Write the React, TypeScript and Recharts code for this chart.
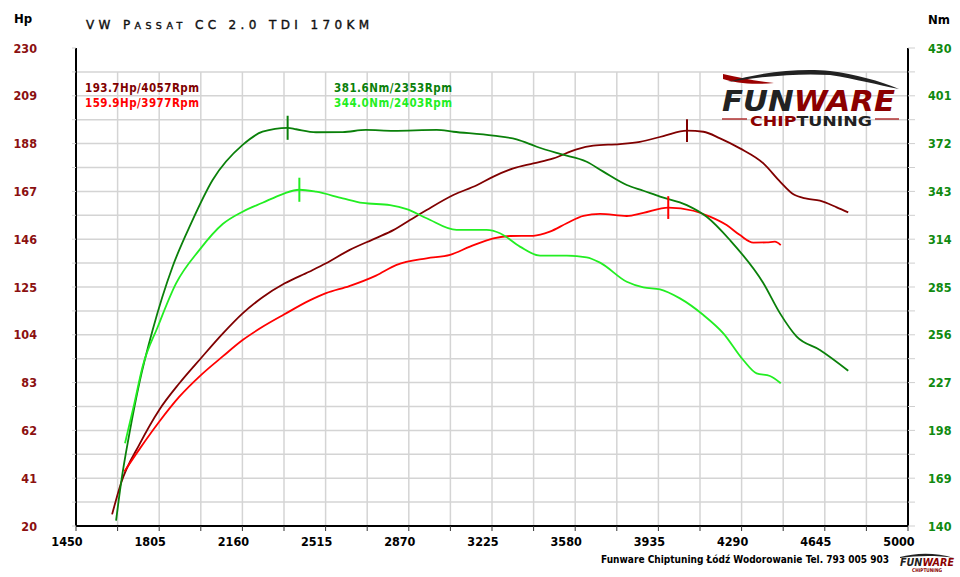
import { LineChart, Line, XAxis, YAxis, ReferenceLine } from "recharts";

// axis labels
const xLabels = [1450, 1805, 2160, 2515, 2870, 3225, 3580, 3935, 4290, 4645, 5000];
const hpLabels = [20, 41, 62, 83, 104, 125, 146, 167, 188, 209, 230];
const nmLabels = [140, 169, 198, 227, 256, 285, 314, 343, 372, 401, 430];

// tuned power (Hp)
const tunedPowerRpm = [1604, 1642, 1723, 1805, 1891, 1983, 2076, 2161, 2246, 2339, 2445, 2517, 2616, 2730, 2804, 2875, 2946, 3060, 3160, 3231, 3316, 3401, 3487, 3586, 3657, 3771, 3856, 3956, 4057, 4127, 4198, 4283, 4383, 4454, 4511, 4568, 4624, 4696, 4745];
const tunedPowerHp = [25.1, 38.8, 56.3, 71.0, 82.7, 93.7, 104.5, 113.4, 120.5, 126.5, 131.7, 135.4, 141.2, 146.5, 150.0, 154.4, 158.8, 165.4, 169.7, 173.5, 177.1, 179.3, 181.5, 185.5, 187.1, 187.8, 188.8, 191.3, 193.7, 193.2, 190.3, 185.9, 179.3, 171.3, 165.7, 163.8, 162.9, 160.0, 157.8];

// stock power (Hp)
const stockPowerRpm = [1656, 1723, 1805, 1891, 1983, 2076, 2161, 2246, 2339, 2445, 2517, 2616, 2730, 2818, 2946, 3046, 3131, 3231, 3302, 3401, 3472, 3544, 3615, 3686, 3800, 3871, 3977, 4084, 4155, 4226, 4283, 4340, 4397, 4432, 4457];
const stockPowerHp = [43.9, 54.1, 65.8, 76.8, 86.3, 94.5, 101.7, 107.5, 113.0, 119.0, 122.3, 125.4, 130.0, 134.7, 137.6, 139.1, 142.7, 146.4, 147.4, 147.5, 149.3, 153.0, 156.3, 157.1, 156.2, 157.6, 159.9, 158.5, 155.9, 152.2, 147.8, 144.5, 144.6, 144.9, 143.4];

// tuned torque (Nm)
const tunedTorqueRpm = [1621, 1642, 1678, 1720, 1777, 1862, 1941, 2033, 2161, 2246, 2353, 2389, 2474, 2588, 2687, 2804, 2989, 3060, 3231, 3330, 3416, 3515, 3629, 3700, 3800, 3871, 3942, 4056, 4141, 4240, 4383, 4454, 4525, 4624, 4745];
const tunedTorqueNm = [143.2, 165.9, 196.2, 226.6, 258.9, 297.3, 323.6, 349.9, 371.2, 379.2, 381.6, 380.7, 378.9, 379.0, 380.3, 379.7, 380.3, 379.2, 376.8, 374.6, 370.1, 365.7, 361.0, 355.0, 346.9, 343.4, 339.8, 334.7, 327.6, 313.5, 287.3, 269.0, 254.9, 246.8, 234.2];

// stock torque (Nm)
const stockTorqueRpm = [1659, 1699, 1734, 1799, 1877, 1976, 2076, 2161, 2246, 2332, 2403, 2474, 2588, 2673, 2790, 2861, 2946, 3074, 3202, 3259, 3344, 3430, 3544, 3629, 3686, 3800, 3871, 3942, 4027, 4127, 4212, 4297, 4354, 4411, 4457];
const stockTorqueNm = [190.2, 214.4, 236.6, 260.9, 287.2, 307.4, 323.2, 330.7, 336.1, 341.4, 344.0, 342.8, 338.8, 336.0, 334.7, 332.3, 326.7, 319.6, 319.6, 317.6, 309.5, 304.0, 304.0, 303.0, 299.8, 288.2, 284.8, 283.6, 278.1, 268.0, 256.9, 240.7, 232.6, 231.0, 226.6];

// peaks: tuned Hp, stock Hp, tuned Nm, stock Nm
const peakRpm = [4057, 3977, 2353, 2403];
const peakValue = [193.7, 159.9, 381.6, 344.0];

const colors = ["#800000", "#ff0000", "#0a800a", "#22ee22"];

const toRows = (rpm: number[], vals: number[]) => rpm.map((r, i) => ({ rpm: r, v: vals[i] }));

const halfSteps = (labels: number[]) =>
  labels.flatMap((v, i) => (i === 0 ? [v] : [(labels[i - 1] + v) / 2, v]));

const xTicks = halfSteps(xLabels);
const hpTicks = halfSteps(hpLabels);
const nmTicks = halfSteps(nmLabels);
const hGrid = hpTicks.slice(1, -1);
const vGrid = xTicks.slice(1, -1);
const gridTop = hpTicks[hpTicks.length - 2];

const labelFont = {
  fontFamily: "'DejaVu Sans Condensed', 'DejaVu Sans', sans-serif",
  fontWeight: 700,
  fontSize: 12.5,
};

const XTick = (props: any) => {
  const { x, y, payload, index } = props;
  if (index % 2 !== 0) return <g />;
  return (
    <text x={x - 9} y={y} dy={13} textAnchor="middle" fill="#000" style={labelFont}>
      {payload.value}
    </text>
  );
};

const HpTick = (props: any) => {
  const { x, y, payload, index } = props;
  if (index % 2 !== 0) return <g />;
  return (
    <text x={x} y={y} dy={4.5} textAnchor="end" fill="#8b1010" style={labelFont}>
      {payload.value}
    </text>
  );
};

const NmTick = (props: any) => {
  const { x, y, payload, index } = props;
  if (index % 2 !== 0) return <g />;
  return (
    <text x={x} y={y} dy={4.5} textAnchor="start" fill="#108a10" style={labelFont}>
      {payload.value}
    </text>
  );
};

const smallFont = "'DejaVu Sans Condensed', 'DejaVu Sans', sans-serif";

const Overlay = () => {
  const legend = [
    `${peakValue[0].toFixed(1)}Hp/${peakRpm[0]}Rpm`,
    `${peakValue[1].toFixed(1)}Hp/${peakRpm[1]}Rpm`,
    `${peakValue[2].toFixed(1)}Nm/${peakRpm[2]}Rpm`,
    `${peakValue[3].toFixed(1)}Nm/${peakRpm[3]}Rpm`,
  ];
  return (
    <svg width={960} height={577} style={{ position: "absolute", left: 0, top: 0, pointerEvents: "none" }}>
      <text x={14} y={23} fontFamily={smallFont} fontWeight={700} fontSize={13} fill="#000">Hp</text>
      <text x={928} y={24} fontFamily={smallFont} fontWeight={700} fontSize={13} fill="#000">Nm</text>
      <text x={86} y={29} fontFamily="'DejaVu Sans', sans-serif" fontSize={12} fill="#111" stroke="#111" strokeWidth={0.4} textLength={283} lengthAdjust="spacing">
        <tspan>VW P</tspan>
        <tspan fontSize={9.5}>ASSAT</tspan>
        <tspan> CC 2.0 TDI 170KM</tspan>
      </text>
      <text x={85} y={92} fontFamily={smallFont} fontWeight={700} fontSize={11.5} fill={colors[0]} textLength={114}>{legend[0]}</text>
      <text x={85} y={107} fontFamily={smallFont} fontWeight={700} fontSize={11.5} fill={colors[1]} textLength={114}>{legend[1]}</text>
      <text x={334} y={92} fontFamily={smallFont} fontWeight={700} fontSize={11.5} fill={colors[2]} textLength={118}>{legend[2]}</text>
      <text x={334} y={107} fontFamily={smallFont} fontWeight={700} fontSize={11.5} fill={colors[3]} textLength={118}>{legend[3]}</text>

      {/* logo */}
      <path d="M723 74 C 740 78, 756 81, 774 83 C 752 85, 735 83, 723 79 Z" fill="#9b0000" />
      <path d="M728 82 C 760 72, 800 68, 830 71 C 855 74, 880 81, 899 89 C 878 85, 856 79, 830 75 C 800 73, 765 76, 728 82 Z" fill="#222" />
      <text x={722} y={111} fontFamily="'DejaVu Sans', sans-serif" fontWeight={900} fontStyle="italic" fontSize={28} textLength={173} lengthAdjust="spacingAndGlyphs">
        <tspan fill="#222">FUN</tspan>
        <tspan fill="#8b0000">WARE</tspan>
      </text>
      <line x1={722} y1={119} x2={747} y2={119} stroke="#b03030" strokeWidth={1.5} />
      <line x1={875} y1={119} x2={899} y2={119} stroke="#b03030" strokeWidth={1.5} />
      <text x={750} y={125.5} fontFamily="'DejaVu Sans', sans-serif" fontWeight={900} fontSize={14.5} textLength={122} lengthAdjust="spacingAndGlyphs">
        <tspan fill="#8b0000">CHIP</tspan>
        <tspan fill="#222">TUNING</tspan>
      </text>

      {/* footer */}
      <text x={601} y={563} fontFamily={smallFont} fontWeight={700} fontSize={10} fill="#000" textLength={288} lengthAdjust="spacingAndGlyphs">
        Funware Chiptuning Łódź Wodorowanie Tel. 793 005 903
      </text>
      <path d="M900 557 C 915 553, 935 552, 954 558 C 935 555, 915 556, 900 558 Z" fill="#222" />
      <text x={900} y={566} fontFamily="'DejaVu Sans', sans-serif" fontWeight={900} fontStyle="italic" fontSize={10} textLength={54} lengthAdjust="spacingAndGlyphs">
        <tspan fill="#222">FUN</tspan>
        <tspan fill="#8b0000">WARE</tspan>
      </text>
      <text x={912} y={572} fontFamily="'DejaVu Sans', sans-serif" fontWeight={700} fontSize={5} fill="#8b0000" textLength={30} lengthAdjust="spacingAndGlyphs">
        CHIPTUNING
      </text>
    </svg>
  );
};

export default function App() {
  const series = [
    { rows: toRows(tunedPowerRpm, tunedPowerHp), axis: "hp", color: colors[0] },
    { rows: toRows(stockPowerRpm, stockPowerHp), axis: "hp", color: colors[1] },
    { rows: toRows(tunedTorqueRpm, tunedTorqueNm), axis: "nm", color: colors[2] },
    { rows: toRows(stockTorqueRpm, stockTorqueNm), axis: "nm", color: colors[3] },
  ];
  const markHalf = [5, 5, 7.3, 7.3];

  return (
    <div style={{ position: "absolute", left: 0, top: 0, width: 960, height: 577, background: "#fff" }}>
      <LineChart width={960} height={577} margin={{ top: 48, right: 0, bottom: 0, left: 0 }}>
        <XAxis
          dataKey="rpm"
          type="number"
          domain={[1450, 5000]}
          ticks={xTicks}
          interval={0}
          tickSize={5}
          tickMargin={2}
          height={51}
          tick={<XTick />}
          tickLine={{ stroke: "#333" }}
          axisLine={{ stroke: "#000", strokeWidth: 2 }}
          allowDataOverflow
        />
        <YAxis
          yAxisId="hp"
          orientation="left"
          width={76}
          domain={[20, 230]}
          ticks={hpTicks}
          interval={0}
          tickSize={4}
          tickMargin={35}
          tick={<HpTick />}
          tickLine={{ stroke: "#cfcfcf" }}
          axisLine={{ stroke: "#000", strokeWidth: 2 }}
        />
        <YAxis
          yAxisId="nm"
          orientation="right"
          width={52}
          domain={[140, 430]}
          ticks={nmTicks}
          interval={0}
          tickSize={7}
          tickMargin={13}
          tick={<NmTick />}
          tickLine={{ stroke: "#cfcfcf" }}
          axisLine={{ stroke: "#000", strokeWidth: 2 }}
        />
        {hGrid.map((v) => (
          <ReferenceLine key={`h${v}`} yAxisId="hp" y={v} stroke="#d4d4d4" strokeWidth={1.5} />
        ))}
        {vGrid.map((v) => (
          <ReferenceLine
            key={`v${v}`}
            yAxisId="hp"
            segment={[{ x: v, y: 20 }, { x: v, y: gridTop }]}
            stroke="#d4d4d4"
            strokeWidth={1.5}
          />
        ))}
        {series.map((s, i) => (
          <Line
            key={i}
            data={s.rows}
            dataKey="v"
            yAxisId={s.axis}
            type="monotone"
            stroke={s.color}
            strokeWidth={1.8}
            dot={false}
            activeDot={false}
            isAnimationActive={false}
          />
        ))}
        {series.map((s, i) => (
          <ReferenceLine
            key={`p${i}`}
            yAxisId={s.axis}
            segment={[
              { x: peakRpm[i], y: peakValue[i] - markHalf[i] },
              { x: peakRpm[i], y: peakValue[i] + markHalf[i] },
            ]}
            stroke={s.color}
            strokeWidth={2}
          />
        ))}
      </LineChart>
      <Overlay />
    </div>
  );
}
